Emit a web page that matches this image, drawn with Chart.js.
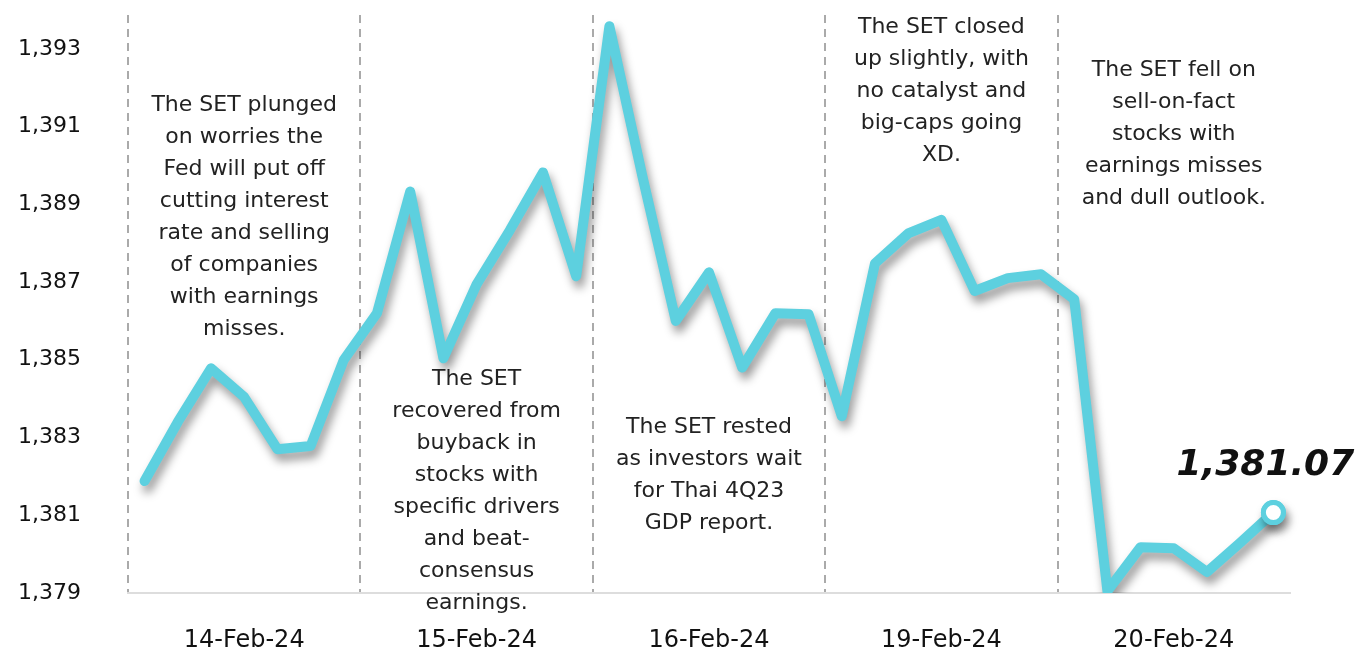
<!DOCTYPE html>
<html>
<head>
<meta charset="utf-8">
<script src="https://cdn.jsdelivr.net/npm/chart.js@4.4.1/dist/chart.umd.min.js"></script>
<style>
    html, body { margin: 0; padding: 0; background: #fff; }
    #wrap { width: 1361px; height: 654px; }
</style>
</head>
<body>
<div id="wrap"><canvas id="setChart" width="1361" height="654"></canvas></div>
<script>
// Trading days shown on the x axis
const days = ['14-Feb-24', '15-Feb-24', '16-Feb-24', '19-Feb-24', '20-Feb-24'];
const pointsPerDay = 7;

// SET index, intraday readings (7 per day)
const setIndex = [
    1381.88, 1383.40, 1384.78, 1384.04, 1382.70, 1382.78, 1385.00,
    1386.20, 1389.33, 1385.04, 1386.94, 1388.33, 1389.82, 1387.15,
    1393.58, 1389.70, 1386.00, 1387.25, 1384.80, 1386.20, 1386.17,
    1383.55, 1387.48, 1388.25, 1388.60, 1386.77, 1387.10, 1387.20,
    1386.56, 1379.05, 1380.18, 1380.15, 1379.54, 1380.29, 1381.07
];

const yTicks = [1379, 1381, 1383, 1385, 1387, 1389, 1391, 1393];

// Daily commentary, one block per day
const notes = [
    ['The SET plunged', 'on worries the', 'Fed will put off', 'cutting interest', 'rate and selling', 'of companies', 'with earnings', 'misses.'],
    ['The SET', 'recovered from', 'buyback in', 'stocks with', 'specific drivers', 'and beat-', 'consensus', 'earnings.'],
    ['The SET rested', 'as investors wait', 'for Thai 4Q23', 'GDP report.'],
    ['The SET closed', 'up slightly, with', 'no catalyst and', 'big-caps going', 'XD.'],
    ['The SET fell on', 'sell-on-fact', 'stocks with', 'earnings misses', 'and dull outlook.']
];
// top line centre (px) of each note block
const noteTop = [105, 379, 427, 27, 70];

const labels = [];
days.forEach(d => { for (let i = 0; i < pointsPerDay; i++) labels.push(d); });

const lineColor = '#5dd0df';
const fontFamily = '"DejaVu Sans", sans-serif';

const lineShadow = {
    id: 'lineShadow',
    beforeDatasetDraw(chart) {
        const ctx = chart.ctx;
        ctx.save();
        ctx.shadowColor = 'rgba(0,0,0,0.4)';
        ctx.shadowBlur = 10;
        ctx.shadowOffsetX = 3;
        ctx.shadowOffsetY = 7;
    },
    afterDatasetDraw(chart) {
        chart.ctx.restore();
        // redraw the end marker without the shadow
        const meta = chart.getDatasetMeta(0);
        meta.data[meta.data.length - 1].draw(chart.ctx, chart.chartArea);
    }
};

const notesPlugin = {
    id: 'notes',
    afterDatasetsDraw(chart) {
        const ctx = chart.ctx;
        const x = chart.scales.x;
        ctx.save();
        ctx.fillStyle = '#222';
        ctx.textAlign = 'center';
        ctx.textBaseline = 'middle';
        ctx.font = '22px ' + fontFamily;
        notes.forEach((lines, d) => {
            const cx = x.getPixelForValue(d * pointsPerDay + 3);
            lines.forEach((t, i) => ctx.fillText(t, cx, noteTop[d] + i * 32));
        });
        // last value label
        const meta = chart.getDatasetMeta(0);
        const last = meta.data[meta.data.length - 1];
        const lastVal = setIndex[setIndex.length - 1];
        ctx.font = 'italic bold 36px ' + fontFamily;
        ctx.fillStyle = '#111';
        ctx.fillText(lastVal.toLocaleString('en-US', { minimumFractionDigits: 2 }), last.x - 8, last.y - 47);
        ctx.restore();
    }
};

new Chart(document.getElementById('setChart'), {
    type: 'line',
    data: {
        labels: labels,
        datasets: [{
            data: setIndex,
            borderColor: lineColor,
            borderWidth: 10,
            borderJoinStyle: 'round',
            borderCapStyle: 'round',
            tension: 0,
            pointRadius: setIndex.map((v, i) => i === setIndex.length - 1 ? 10 : 0),
            pointBorderWidth: 5,
            pointBackgroundColor: '#fff',
            pointBorderColor: lineColor
        }]
    },
    options: {
        responsive: false,
        animation: false,
        layout: { padding: { top: 14, right: 71, bottom: 0, left: 18 } },
        plugins: {
            legend: { display: false },
            tooltip: { enabled: false }
        },
        scales: {
            x: {
                offset: true,
                grid: {
                    offset: true,
                    drawTicks: false,
                    lineWidth: 2,
                    color: c => (c.index % pointsPerDay === 0) ? '#aaaaaa' : 'rgba(0,0,0,0)'
                },
                border: { display: true, color: '#dddddd', width: 2, dash: [8, 6] },
                ticks: {
                    autoSkip: false,
                    maxRotation: 0,
                    padding: 33,
                    color: '#111',
                    font: { family: fontFamily, size: 24 },
                    callback: (v, i) => (i % pointsPerDay === 3) ? labels[i] : ''
                },
                afterFit: s => { s.height = 61; }
            },
            y: {
                min: 1379,
                max: 1393.87,
                afterBuildTicks: s => { s.ticks = yTicks.map(v => ({ value: v })); },
                grid: { display: false },
                border: { display: false },
                ticks: {
                    padding: 8,
                    crossAlign: 'far',
                    color: '#111',
                    font: { family: fontFamily, size: 22 },
                    callback: v => v.toLocaleString('en-US')
                },
                afterFit: s => { s.width = 110; s.paddingTop = 0; }
            }
        }
    },
    plugins: [lineShadow, notesPlugin]
});
</script>
</body>
</html>
